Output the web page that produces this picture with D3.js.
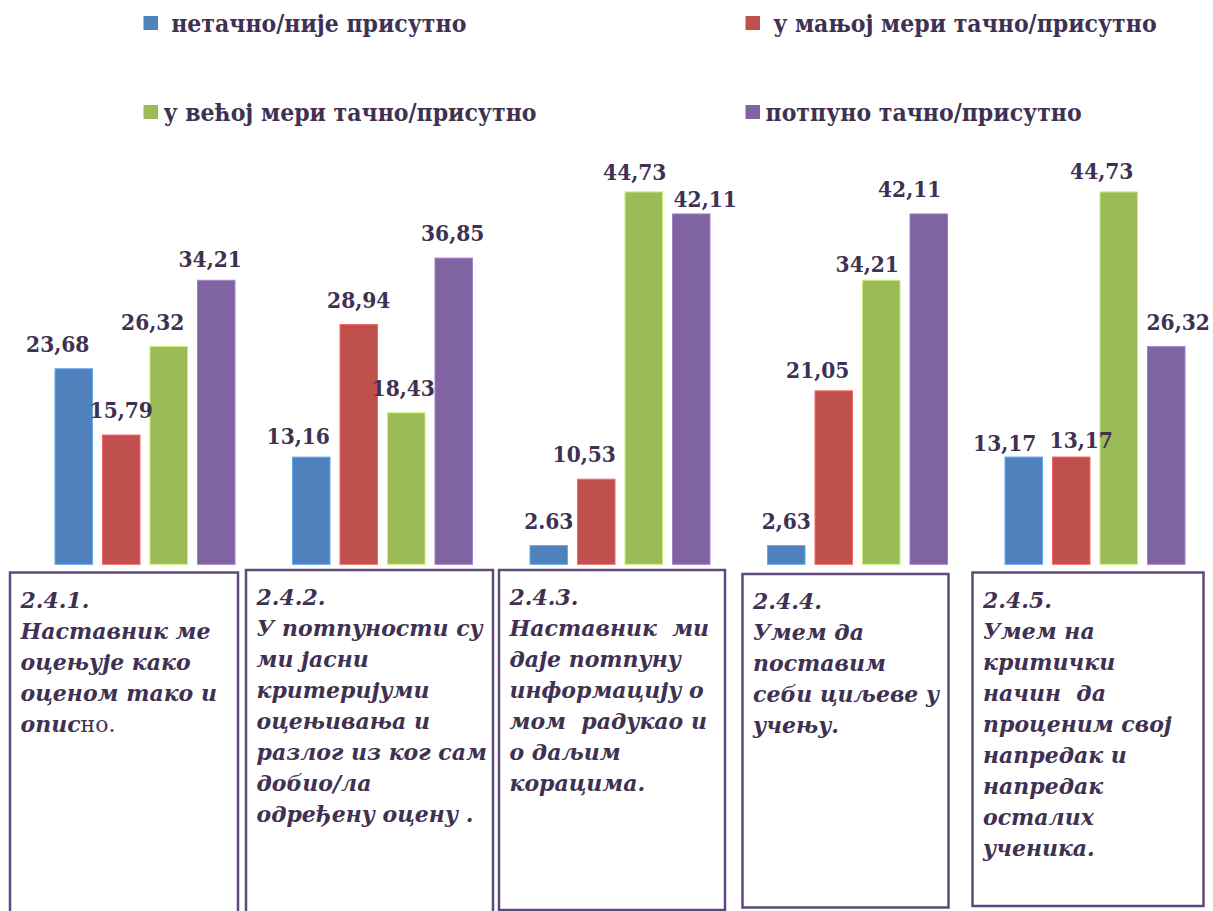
<!DOCTYPE html>
<html>
<head>
<meta charset="utf-8">
<script src="https://cdn.jsdelivr.net/npm/d3@7/dist/d3.min.js"></script>
<style>
  html, body { margin: 0; padding: 0; background: #ffffff; }
  svg { display: block; }
  text { white-space: pre; }
</style>
</head>
<body>
<script>
// Survey items (groups along the x axis)
const groups = ["2.4.1.", "2.4.2.", "2.4.3.", "2.4.4.", "2.4.5."];

// Answer categories (series)
const series = [
  " нетачно/није присутно",
  " у мањој мери тачно/присутно",
  "у већој мери тачно/присутно",
  "потпуно тачно/присутно"
];

// Percentages per answer category, one value per item
const netacno   = [23.68, 13.16, 2.63, 2.63, 13.17];
const uManjoj   = [15.79, 28.94, 10.53, 21.05, 13.17];
const uVecoj    = [26.32, 18.43, 44.73, 34.21, 44.73];
const potpuno   = [34.21, 36.85, 42.11, 42.11, 26.32];

// Value labels as printed above the bars
const labelsNetacno = ["23,68", "13,16", "2.63", "2,63", "13,17"];
const labelsManjoj  = ["15,79", "28,94", "10,53", "21,05", "13,17"];
const labelsVecoj   = ["26,32", "18,43", "44,73", "34,21", "44,73"];
const labelsPotpuno = ["34,21", "36,85", "42,11", "42,11", "26,32"];

// Item statements shown in the boxes under each group
const statements = [
  ["2.4.1.", "Наставник ме", "оцењује како", "оценом тако и", ["опис", "но."]],
  ["2.4.2.", "У потпуности су", "ми јасни", "критеријуми", "оцењивања и", "разлог из ког сам", "добио/ла", "одређену оцену ."],
  ["2.4.3.", "Наставник  ми", "даје потпуну", "информацију о", "мом  радукао и", "о даљим", "корацима."],
  ["2.4.4.", "Умем да", "поставим", "себи циљеве у", "учењу."],
  ["2.4.5.", "Умем на", "критички", "начин  да", "проценим свој", "напредак и", "напредак", "осталих", "ученика."]
];

const colors = ["#4f81bd", "#c0504d", "#9bbb59", "#8064a2"];
const ink = "#3f3151";
const frame = "#5f497a";

const values = [netacno, uManjoj, uVecoj, potpuno];
const labels = [labelsNetacno, labelsManjoj, labelsVecoj, labelsPotpuno];

// Hand-placed offsets of the value labels (dx, dy) relative to the bar top centre
const labelShift = [
  [[-16, 0], [-13, 4], [0, 0], [0, 0], [-19, 11]],
  [[0, 0], [0, 0], [-12, 0], [-16, 4], [10, 8]],
  [[-16, 0], [-3, 0], [-9, 5], [-14, 9], [-17, 4]],
  [[-6, 4], [-1, 0], [14, 10], [-19, 0], [12, 0]]
];

// Boxes holding the statements: x, y, width, height
const noteBoxes = [
  [10, 572.5, 228, 360],
  [246, 570, 247, 360],
  [499, 570, 226, 340],
  [742.5, 574, 206, 333.5],
  [972.5, 572.5, 231, 333.5]
];

const W = 1213, H = 911;
const svg = d3.select("body").append("svg").attr("width", W).attr("height", H);

const x0 = d3.scaleBand().domain(groups).range([26.25, 1213.75]).padding(0);
const x1 = d3.scaleBand().domain(d3.range(series.length)).range([0, 180]).paddingInner(0.21).paddingOuter(0);
const groupInset = (x0.bandwidth() - 180) / 2;
const y = d3.scaleLinear().domain([0.4, 45]).range([564.3, 564.3 - 8.4 * 44.6]);

const valueFont = "'DejaVu Serif', serif";

// Bars
const gGroups = svg.append("g").selectAll("g")
  .data(groups)
  .join("g")
  .attr("transform", d => `translate(${x0(d) + groupInset},0)`);

gGroups.each(function (g, gi) {
  const sel = d3.select(this);
  series.forEach((s, si) => {
    const v = values[si][gi];
    sel.append("rect")
      .attr("x", x1(si))
      .attr("y", y(v))
      .attr("width", x1.bandwidth())
      .attr("height", y.range()[0] - y(v))
      .attr("fill", colors[si])
      .attr("stroke", d3.color(colors[si]).brighter(0.7))
      .attr("stroke-width", 1);
  });
  series.forEach((s, si) => {
    const v = values[si][gi];
    const [dx, dy] = labelShift[si][gi];
    sel.append("text")
      .attr("x", x1(si) + x1.bandwidth() / 2 + dx)
      .attr("y", y(v) - 17 + dy)
      .attr("text-anchor", "middle")
      .attr("font-family", valueFont)
      .attr("font-weight", "bold")
      .attr("font-stretch", "condensed")
      .attr("font-size", 22.5)
      .attr("fill", ink)
      .text(labels[si][gi]);
  });
});

// Legend: two columns, two rows
const legend = svg.append("g");
const legendCols = [143.5, 745.5];
const legendRows = [16, 105];
series.forEach((s, i) => {
  const lx = legendCols[i % 2], ly = legendRows[Math.floor(i / 2)];
  legend.append("rect")
    .attr("x", lx).attr("y", ly)
    .attr("width", 14.5).attr("height", 14)
    .attr("fill", colors[i]);
  legend.append("text")
    .attr("x", lx + 20)
    .attr("y", ly + 16)
    .attr("font-family", valueFont)
    .attr("font-weight", "bold")
    .attr("font-stretch", "condensed")
    .attr("font-size", 24.5)
    .attr("fill", ink)
    .text(s);
});

// Statement boxes
const boxes = svg.append("g");
noteBoxes.forEach((b, i) => {
  const [bx, by, bw, bh] = b;
  boxes.append("rect")
    .attr("x", bx).attr("y", by)
    .attr("width", bw).attr("height", bh)
    .attr("fill", "#ffffff")
    .attr("stroke", frame)
    .attr("stroke-width", 2.5);
  const t = boxes.append("text")
    .attr("font-family", valueFont)
    .attr("font-weight", "bold")
    .attr("font-style", "italic")
    .attr("font-size", 22)
    .attr("fill", ink);
  statements[i].forEach((line, li) => {
    const ty = by + 35 + li * 31;
    if (Array.isArray(line)) {
      const tl = t.append("tspan").attr("x", bx + 10.5).attr("y", ty);
      tl.text(line[0]);
      t.append("tspan")
        .attr("font-weight", "normal")
        .attr("font-style", "normal")
        .text(line[1]);
    } else {
      t.append("tspan").attr("x", bx + 10.5).attr("y", ty).text(line);
    }
  });
});
</script>
</body>
</html>
